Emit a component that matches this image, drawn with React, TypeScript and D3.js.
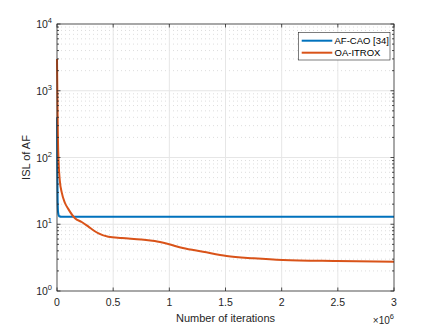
import { useEffect, useRef } from 'react';
import * as d3 from 'd3';

// iterations (x1e6) and ISL values
const caoX = [0, 0.003, 0.006, 0.01, 0.02, 0.04, 3.0];
const caoY = [400, 60, 22, 15, 13.2, 13, 13];

const itroxX = [0, 0.003, 0.008, 0.015, 0.025, 0.042, 0.07, 0.1, 0.16, 0.22, 0.28, 0.33, 0.37, 0.457, 0.576, 0.75, 0.87, 0.99, 1.12, 1.3, 1.51, 1.75, 2.01, 2.49, 3.0];
const itroxY = [3000, 1000, 200, 80, 45, 30, 21, 17, 12.3, 10.8, 9.2, 8, 7.3, 6.5, 6.2, 5.9, 5.6, 5.05, 4.4, 3.88, 3.35, 3.09, 2.91, 2.81, 2.74];

const xTicks = [0, 0.5, 1, 1.5, 2, 2.5, 3];
const xTickLabels = ['0', '0.5', '1', '1.5', '2', '2.5', '3'];
const yExponents = [0, 1, 2, 3, 4];

const seriesNames = ['AF-CAO [34]', 'OA-ITROX'];
const seriesColors = ['#0072BD', '#D95319'];

const W = 436;
const H = 327;
const FONT = "'Liberation Sans', Arial, sans-serif";

const App = () => {
    const svgRef = useRef<SVGSVGElement>(null);

    useEffect(() => {
        const svg = d3.select(svgRef.current);
        svg.selectAll('*').remove();

        const left = 57, right = 394, top = 24, bottom = 291;

        const x = d3.scaleLinear().domain([0, 3]).range([left, right]);
        const y = d3.scaleLog().domain([1, 10000]).range([bottom, top]);

        svg.append('rect').attr('width', W).attr('height', H).attr('fill', '#fff');

        // grid: minor dotted horizontal lines
        const minor: number[] = [];
        yExponents.slice(0, -1).forEach(e => {
            for (let k = 2; k <= 9; k++) minor.push(k * Math.pow(10, e));
        });
        svg.append('g').selectAll('line').data(minor).join('line')
            .attr('x1', left).attr('x2', right)
            .attr('y1', d => y(d)).attr('y2', d => y(d))
            .attr('stroke', '#d4d4d4').attr('stroke-width', 0.8)
            .attr('stroke-dasharray', '1,3');

        // major grid
        svg.append('g').selectAll('line').data(yExponents.slice(1, -1)).join('line')
            .attr('x1', left).attr('x2', right)
            .attr('y1', d => y(Math.pow(10, d))).attr('y2', d => y(Math.pow(10, d)))
            .attr('stroke', '#e6e6e6').attr('stroke-width', 1);
        svg.append('g').selectAll('line').data(xTicks.slice(1, -1)).join('line')
            .attr('x1', d => x(d)).attr('x2', d => x(d))
            .attr('y1', top).attr('y2', bottom)
            .attr('stroke', '#e6e6e6').attr('stroke-width', 1);

        // lines
        const line = d3.line<[number, number]>()
            .x(d => x(d[0])).y(d => y(d[1]))
            .curve(d3.curveMonotoneX);
        const series = [
            d3.zip(caoX, caoY) as [number, number][],
            d3.zip(itroxX, itroxY) as [number, number][],
        ];
        // draw orange first? blue visible under orange at start -> orange on top
        series.forEach((s, i) => {
            svg.append('path')
                .datum(s)
                .attr('d', line)
                .attr('fill', 'none')
                .attr('stroke', seriesColors[i])
                .attr('stroke-width', 2)
                .attr('stroke-linejoin', 'round');
        });

        // axes box
        const axisColor = '#262626';
        svg.append('rect')
            .attr('x', left).attr('y', top)
            .attr('width', right - left).attr('height', bottom - top)
            .attr('fill', 'none').attr('stroke', axisColor).attr('stroke-width', 0.8);

        // x ticks (inward, bottom and top)
        const tl = 3.5;
        xTicks.forEach(t => {
            svg.append('line').attr('x1', x(t)).attr('x2', x(t))
                .attr('y1', bottom).attr('y2', bottom - tl)
                .attr('stroke', axisColor).attr('stroke-width', 0.8);
            svg.append('line').attr('x1', x(t)).attr('x2', x(t))
                .attr('y1', top).attr('y2', top + tl)
                .attr('stroke', axisColor).attr('stroke-width', 0.8);
        });
        svg.append('g').selectAll('text').data(xTicks).join('text')
            .attr('x', d => x(d)).attr('y', bottom + 15)
            .attr('text-anchor', 'middle')
            .attr('font-family', FONT).attr('font-size', 10.5)
            .attr('fill', axisColor)
            .text((d, i) => xTickLabels[i]);

        // y ticks (major and minor, both sides)
        yExponents.forEach(e => {
            const yy = y(Math.pow(10, e));
            [[left, left + tl], [right, right - tl]].forEach(([a, b]) => {
                svg.append('line').attr('x1', a).attr('x2', b)
                    .attr('y1', yy).attr('y2', yy)
                    .attr('stroke', axisColor).attr('stroke-width', 0.8);
            });
            const txt = svg.append('text')
                .attr('x', left - 5).attr('y', yy + 4)
                .attr('text-anchor', 'end')
                .attr('font-family', FONT).attr('font-size', 10.5)
                .attr('fill', axisColor);
            txt.append('tspan').text('10');
            txt.append('tspan').attr('dy', -5).attr('font-size', 7.5).text(String(e));
        });
        minor.forEach(v => {
            const yy = y(v);
            [[left, left + 2], [right, right - 2]].forEach(([a, b]) => {
                svg.append('line').attr('x1', a).attr('x2', b)
                    .attr('y1', yy).attr('y2', yy)
                    .attr('stroke', axisColor).attr('stroke-width', 0.8);
            });
        });

        // axis labels
        svg.append('text')
            .attr('x', (left + right) / 2).attr('y', 322)
            .attr('text-anchor', 'middle')
            .attr('font-family', FONT).attr('font-size', 11)
            .attr('fill', axisColor)
            .text('Number of iterations');
        const mult = svg.append('text')
            .attr('x', right).attr('y', 324)
            .attr('text-anchor', 'end')
            .attr('font-family', FONT).attr('font-size', 10)
            .attr('fill', axisColor);
        mult.append('tspan').text('×10');
        mult.append('tspan').attr('dy', -5).attr('font-size', 7.5).text('6');

        svg.append('text')
            .attr('transform', `translate(30,${(top + bottom) / 2}) rotate(-90)`)
            .attr('text-anchor', 'middle')
            .attr('font-family', FONT).attr('font-size', 11)
            .attr('fill', axisColor)
            .text('ISL of AF');

        // legend
        const lg = svg.append('g');
        lg.append('rect')
            .attr('x', 298.5).attr('y', 32.5)
            .attr('width', 91.5).attr('height', 27.5)
            .attr('fill', '#fff').attr('stroke', axisColor).attr('stroke-width', 0.6);
        seriesNames.forEach((name, i) => {
            const yy = 40.7 + i * 12;
            lg.append('line')
                .attr('x1', 301.7).attr('x2', 332.3)
                .attr('y1', yy).attr('y2', yy)
                .attr('stroke', seriesColors[i]).attr('stroke-width', 2);
            lg.append('text')
                .attr('x', 334.5).attr('y', yy + 3.5)
                .attr('font-family', FONT).attr('font-size', 9.5)
                .attr('fill', '#000')
                .text(name);
        });
    }, []);

    return (
        <svg ref={svgRef} width={W} height={H}
            style={{ position: 'absolute', left: 0, top: 0, display: 'block' }} />
    );
};

export default App;
